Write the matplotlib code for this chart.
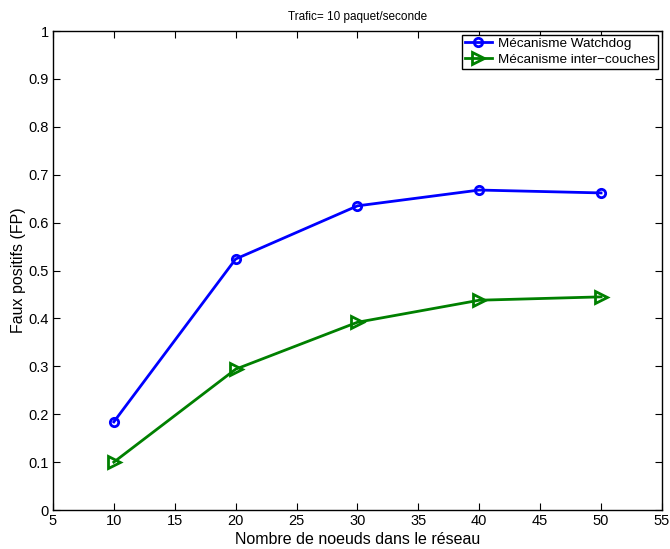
import matplotlib
matplotlib.use('Agg')
import matplotlib.pyplot as plt
import numpy as np

# nombre de noeuds et taux de faux positifs
noeuds = [10, 20, 30, 40, 50]
fp_watchdog = [0.184, 0.524, 0.635, 0.668, 0.662]
fp_intercouches = [0.100, 0.294, 0.392, 0.438, 0.445]

plt.rcParams['font.family'] = ['Liberation Sans', 'DejaVu Sans']

fig = plt.figure(figsize=(6.7, 5.49), dpi=100)
ax = fig.add_axes([0.079, 0.071, 0.909, 0.8725])

ax.plot(noeuds, fp_watchdog, color='#0000ff', lw=2, marker='o', ms=6,
        mfc='none', mew=2, label='Mécanisme Watchdog')
ax.plot(noeuds, fp_intercouches, color='#008000', lw=2, marker='>', ms=8,
        mfc='none', mew=2, label='Mécanisme inter\u2212couches')

ax.set_xlim(5, 55)
ax.set_ylim(0, 1)
ax.set_xticks(np.arange(5, 56, 5))
ax.set_yticks(np.arange(0, 1.01, 0.1))
ax.set_yticklabels(['0', '0.1', '0.2', '0.3', '0.4', '0.5', '0.6', '0.7', '0.8', '0.9', '1'])
ax.tick_params(direction='in', top=True, right=True, labelsize=10.5, length=5, pad=3)
for s in ax.spines.values():
    s.set_linewidth(1)

ax.set_xlabel('Nombre de noeuds dans le réseau', fontsize=11.5, labelpad=3)
ax.set_ylabel('Faux positifs (FP)', fontsize=11.5)
ax.yaxis.set_label_coords(-0.045, 0.5)
ax.set_title('Trafic= 10 paquet/seconde', fontsize=8.5, pad=8)

leg = ax.legend(loc='upper right', fontsize=9.7, fancybox=False, framealpha=1,
                edgecolor='black', borderpad=0.2, labelspacing=0.25,
                handlelength=2.0, handletextpad=0.45, borderaxespad=0.3)
leg.get_frame().set_linewidth(1)

fig.savefig('out.png', dpi=100)
